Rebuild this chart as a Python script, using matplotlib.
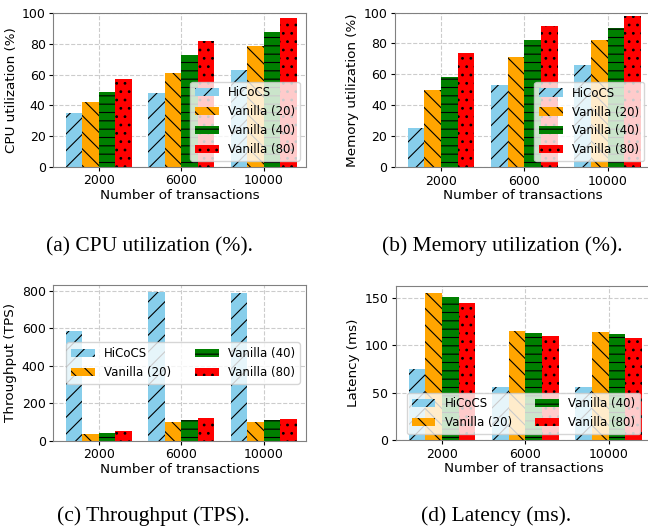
import matplotlib
matplotlib.use('Agg')
import matplotlib.pyplot as plt
import numpy as np

# data
transactions = ['2000', '6000', '10000']
series_names = ['HiCoCS', 'Vanilla (20)', 'Vanilla (40)', 'Vanilla (80)']

cpu_hicocs = [35, 48, 63]
cpu_v20 = [42, 61, 79]
cpu_v40 = [49, 73, 88]
cpu_v80 = [57, 82, 97]

mem_hicocs = [25, 53, 66]
mem_v20 = [50, 71, 82]
mem_v40 = [58, 82, 90]
mem_v80 = [74, 91, 98]

tps_hicocs = [585, 790, 785]
tps_v20 = [35, 100, 98]
tps_v40 = [42, 112, 108]
tps_v80 = [50, 120, 118]

lat_hicocs = [75, 56, 56]
lat_v20 = [155, 115, 114]
lat_v40 = [151, 113, 112]
lat_v80 = [145, 110, 108]

colors = ['skyblue', 'orange', 'green', 'red']
hatches = ['//', '\\\\', '--', '..']

W, H = 648, 527
plt.rcParams['hatch.linewidth'] = 0.8


def px_axes(fig, left, top, right, bottom):
    return fig.add_axes([left / W, (H - bottom) / H, (right - left) / W, (bottom - top) / H])


def draw_bars(ax, values, ylabel, ylim=None, yticks=None, legend_kw=None):
    x = np.arange(len(transactions))
    width = 0.2
    for i, (vals, name) in enumerate(zip(values, series_names)):
        ax.bar(x + (i - 1.5) * width, vals, width, color=colors[i], hatch=hatches[i], label=name)
    ax.set_xticks(x)
    ax.set_xticklabels(transactions)
    ax.set_xlim(-0.55, 2.51)
    if ylim is not None:
        ax.set_ylim(*ylim)
    if yticks is not None:
        ax.set_yticks(yticks)
    ax.set_axisbelow(True)
    ax.grid(True, linestyle='--', color='#cccccc', linewidth=0.8)
    for s in ax.spines.values():
        s.set_color('#808080')
    ax.tick_params(labelsize=9, length=3, pad=2.5)
    ax.set_xlabel('Number of transactions', fontsize=9.7, labelpad=1)
    ax.set_ylabel(ylabel, fontsize=9.7, labelpad=3)
    ax.legend(fontsize=8.5, **(legend_kw or {}))


fig = plt.figure(figsize=(W / 100, H / 100), dpi=100)

ax_a = px_axes(fig, 53.3, 13.3, 305.7, 166.7)
draw_bars(ax_a, [cpu_hicocs, cpu_v20, cpu_v40, cpu_v80], 'CPU utilization (%)',
          ylim=(0, 100), yticks=range(0, 101, 20), legend_kw=dict(loc='lower right'))

ax_b = px_axes(fig, 395, 12.5, 650, 167)
draw_bars(ax_b, [mem_hicocs, mem_v20, mem_v40, mem_v80], 'Memory utilization (%)',
          ylim=(0, 100), yticks=range(0, 101, 20), legend_kw=dict(loc='lower right'))

ax_c = px_axes(fig, 53.3, 285, 305.7, 440.7)
draw_bars(ax_c, [tps_hicocs, tps_v20, tps_v40, tps_v80], 'Throughput (TPS)',
          yticks=range(0, 801, 200), legend_kw=dict(loc='center right', ncol=2))

ax_d = px_axes(fig, 396, 286, 651, 440)
draw_bars(ax_d, [lat_hicocs, lat_v20, lat_v40, lat_v80], 'Latency (ms)',
          yticks=[0, 50, 100, 150], legend_kw=dict(loc='lower center', ncol=2))

captions = [('(a) CPU utilization (%).', 149, 251),
            ('(b) Memory utilization (%).', 502, 251),
            ('(c) Throughput (TPS).', 153, 521),
            ('(d) Latency (ms).', 496, 521)]
for text, cx, cy in captions:
    fig.text(cx / W, (H - cy) / H, text, ha='center', va='baseline',
             fontsize=15.5, family='Liberation Serif')

fig.savefig('out.png', dpi=100)
